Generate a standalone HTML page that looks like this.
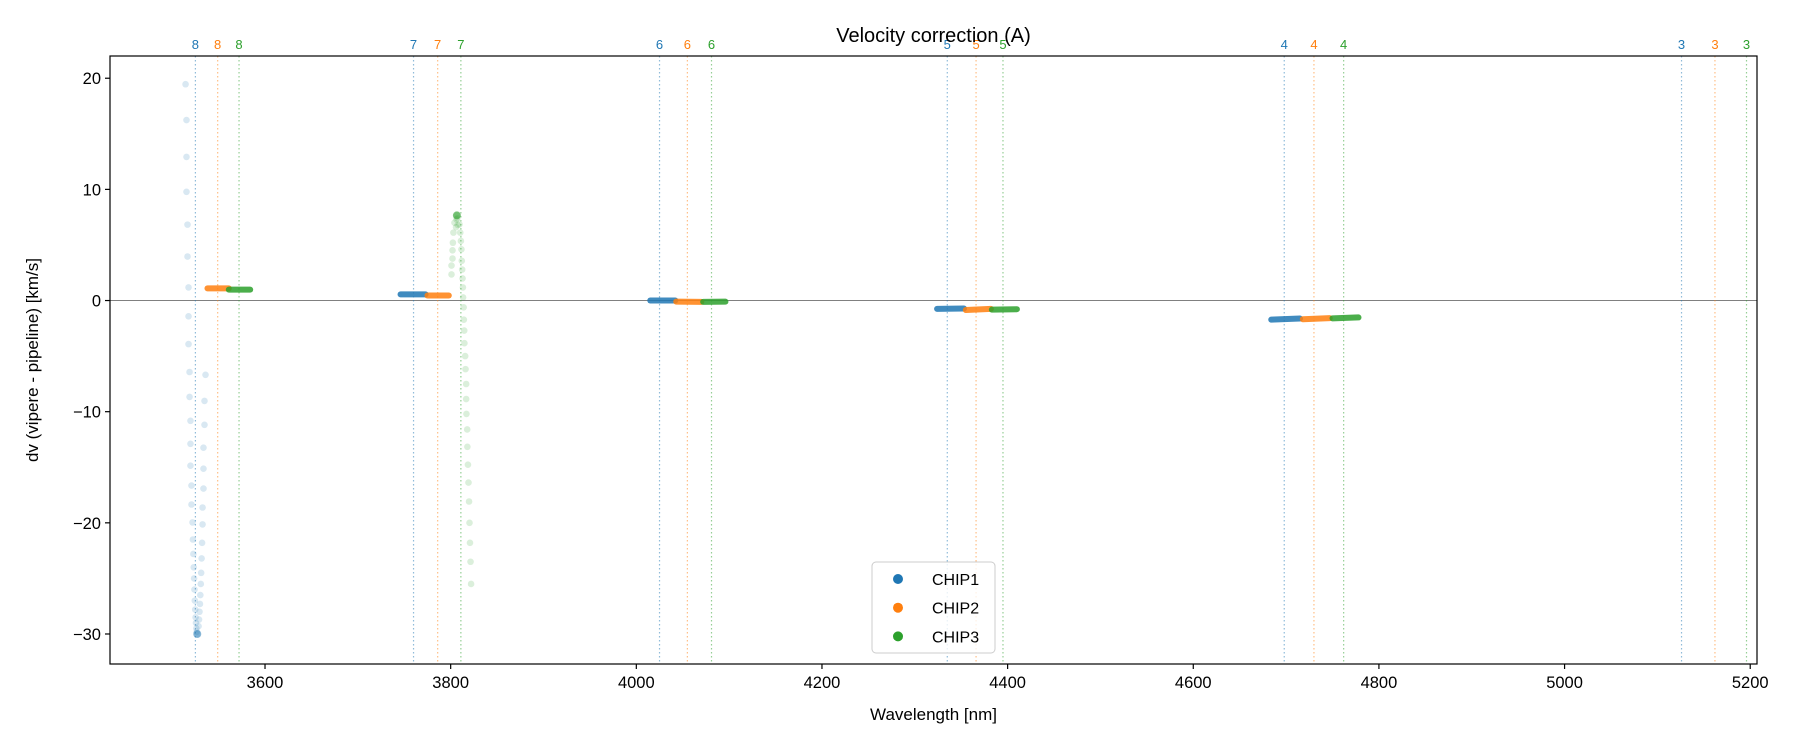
<!DOCTYPE html>
<html><head><meta charset="utf-8"><style>
html,body{margin:0;padding:0;background:#fff;}
svg{display:block;font-family:"Liberation Sans","DejaVu Sans",sans-serif;}
</style></head><body>
<svg id="chart" width="1800" height="750" viewBox="0 0 1800 750"></svg>
<script>
const chipNames = ["CHIP1","CHIP2","CHIP3"];
const chipColors = ["#1f77b4","#ff7f0e","#2ca02c"];
const orderLabels = ["8","7","6","5","4","3"];
const orderLines1 = [3525,3760,4025,4335,4698,5126];
const orderLines2 = [3549,3786,4055,4366,4730,5162];
const orderLines3 = [3572,3811,4081,4395,4762,5196];
// dense segments: [xStart, xEnd, yStart, yEnd]
const segChip1 = [[3746,3773,0.55,0.55],[4015,4042,0.0,0.0],[4324,4353,-0.75,-0.72],[4684,4715,-1.72,-1.62]];
const segChip2 = [[3538,3561,1.09,1.09],[3775,3798,0.45,0.45],[4043,4070,-0.1,-0.12],[4355,4382,-0.85,-0.75],[4718,4747,-1.68,-1.58]];
const segChip3 = [[3561,3584,0.98,0.98],[4072,4096,-0.12,-0.1],[4383,4410,-0.82,-0.78],[4750,4778,-1.6,-1.52]];
// sparse outlier points
const outX1 = [3514.4,3515.4,3515.4,3515.4,3516.5,3516.5,3517.6,3517.6,3517.6,3518.7,3518.7,3519.7,3519.7,3519.7,3520.8,3520.8,3521.9,3522.3,3522.8,3523.2,3523.6,3524,3524.4,3524.8,3525.2,3525.6,3526,3526.5,3527,
  3535.9,3534.8,3534.8,3533.7,3533.7,3533.7,3532.7,3532.7,3532.2,3531.7,3531.2,3530.8,3530.3,3529.9,3529.4,3528.9,3528.4];
const outY1 = [19.46,16.24,12.92,9.78,6.83,3.96,1.18,-1.42,-3.92,-6.43,-8.67,-10.82,-12.89,-14.86,-16.65,-18.35,-19.96,-21.5,-22.8,-24,-25,-26,-27,-27.8,-28.5,-29,-29.5,-29.8,-30,
  -6.68,-9.03,-11.18,-13.24,-15.13,-16.92,-18.62,-20.14,-21.8,-23.2,-24.5,-25.5,-26.5,-27.3,-28,-28.7,-29.3];
const outX3 = [3806.7,3806.2,3807.2,3805.8,3807.6,3804.1,3803,3802.4,3802,3802,3800.9,3800.9,
  3809.5,3810.3,3811,3811.6,3812,3812.4,3812.8,3813.2,3813.4,3814,3814.2,3814.6,3814.8,3815.6,3816,3816.7,3816.7,3817,3817.8,3818,3818.6,3819.2,3819.8,3820.3,3820.8,3821.4,3822];
const outY3 = [7.66,7.3,7.4,6.6,6.8,7.0,6.11,5.2,4.52,3.78,3.15,2.35,
  6.85,6.11,5.36,4.61,3.57,2.79,1.99,1.18,0.28,-0.61,-1.72,-2.7,-3.84,-5.0,-6.17,-7.51,-8.86,-10.2,-11.6,-13.16,-14.77,-16.38,-18.08,-20,-21.8,-23.5,-25.5,-27.5];
const xTicks = [3600,3800,4000,4200,4400,4600,4800,5000,5200];
const yTicks = [20,10,0,-10,-20,-30];

const L=110,R=1757,T=56,B=664;
const xMin=3433,xMax=5207.3,yMin=-32.7,yMax=22;
const X=v=>L+(v-xMin)/(xMax-xMin)*(R-L);
const Y=v=>B-(v-yMin)/(yMax-yMin)*(B-T);
const NS="http://www.w3.org/2000/svg";
const svg=document.getElementById('chart');
function mk(tag,attrs,parent,text){const e=document.createElementNS(NS,tag);for(const k in attrs)e.setAttribute(k,attrs[k]);if(text!==undefined)e.textContent=text;(parent||svg).appendChild(e);return e;}

// zero line
const zl=mk('line',{x1:L,x2:R,y1:Y(0),y2:Y(0),stroke:'#808080','stroke-width':1});



// order lines + labels
const orderSets=[orderLines1,orderLines2,orderLines3];
orderSets.forEach((arr,c)=>{
  arr.forEach((v,i)=>{
    const ln=mk('line',{x1:X(v),x2:X(v),y1:T,y2:B,stroke:chipColors[c],'stroke-width':1.2,'stroke-dasharray':'1.5,2.5','stroke-opacity':0.5});
    
    
    const t=mk('text',{x:X(v),y:T-7,fill:chipColors[c],'font-size':13,'text-anchor':'middle'},svg,orderLabels[i]);
    
    
  });
});

// outliers
function drawPts(xs,ys,c,op){
  xs.forEach((x,i)=>{
    const p=mk('circle',{cx:X(x),cy:Y(ys[i]),r:3.3,fill:chipColors[c],'fill-opacity':op});
    
    
  });
}
drawPts(outX1,outY1,0,0.17);
drawPts(outX3,outY3,2,0.17);
// peak darker
const pk=mk('circle',{cx:X(outX3[0]),cy:Y(outY3[0]),r:4,fill:chipColors[2],'fill-opacity':0.6});


const bt=mk('circle',{cx:X(outX1[28]),cy:Y(outY1[28]),r:4,fill:chipColors[0],'fill-opacity':0.5});



// segments
[segChip1,segChip2,segChip3].forEach((segs,c)=>{
  segs.forEach(s=>{
    const l=mk('line',{x1:X(s[0]),x2:X(s[1]),y1:Y(s[2]),y2:Y(s[3]),stroke:chipColors[c],'stroke-width':6,'stroke-linecap':'round','stroke-opacity':0.85});
    
    
  });
});

// axes frame
const fr=mk('rect',{x:L,y:T,width:R-L,height:B-T,fill:'none',stroke:'#000','stroke-width':1.2});



xTicks.forEach(v=>{
  const tk=mk('line',{x1:X(v),x2:X(v),y1:B,y2:B+5,stroke:'#000','stroke-width':1.2});
  
  
  const t=mk('text',{x:X(v),y:B+24,'font-size':16.5,'text-anchor':'middle',fill:'#000'},svg,String(v));
  
  
});
yTicks.forEach(v=>{
  const tk=mk('line',{x1:L-5,x2:L,y1:Y(v),y2:Y(v),stroke:'#000','stroke-width':1.2});
  
  
  const t=mk('text',{x:L-9,y:Y(v)+6,'font-size':16.5,'text-anchor':'end',fill:'#000'},svg,v<0?'\u2212'+Math.abs(v):String(v));
  
  
});

const title=mk('text',{x:(L+R)/2,y:42,'font-size':20,'text-anchor':'middle',fill:'#000'},svg,'Velocity correction (A)');


const xl=mk('text',{x:(L+R)/2,y:720,'font-size':17,'text-anchor':'middle',fill:'#000'},svg,'Wavelength [nm]');


const yl=mk('text',{x:0,y:0,'font-size':17,'text-anchor':'middle',fill:'#000',transform:'translate(38,'+((T+B)/2)+') rotate(-90)'},svg,'dv (vipere - pipeline) [km/s]');



// legend
const lg=mk('g',{});


mk('rect',{x:872,y:562,width:123,height:91,rx:4,fill:'#fff','fill-opacity':0.8,stroke:'#ccc','stroke-width':1},lg);
chipNames.forEach((n,i)=>{
  const g=mk('g',{},lg);
  
  
  mk('circle',{cx:898,cy:579+i*28.7,r:5,fill:chipColors[i]},g);
  mk('text',{x:932,y:585+i*28.7,'font-size':16,fill:'#000'},g,n);
});
</script>
</body></html>
